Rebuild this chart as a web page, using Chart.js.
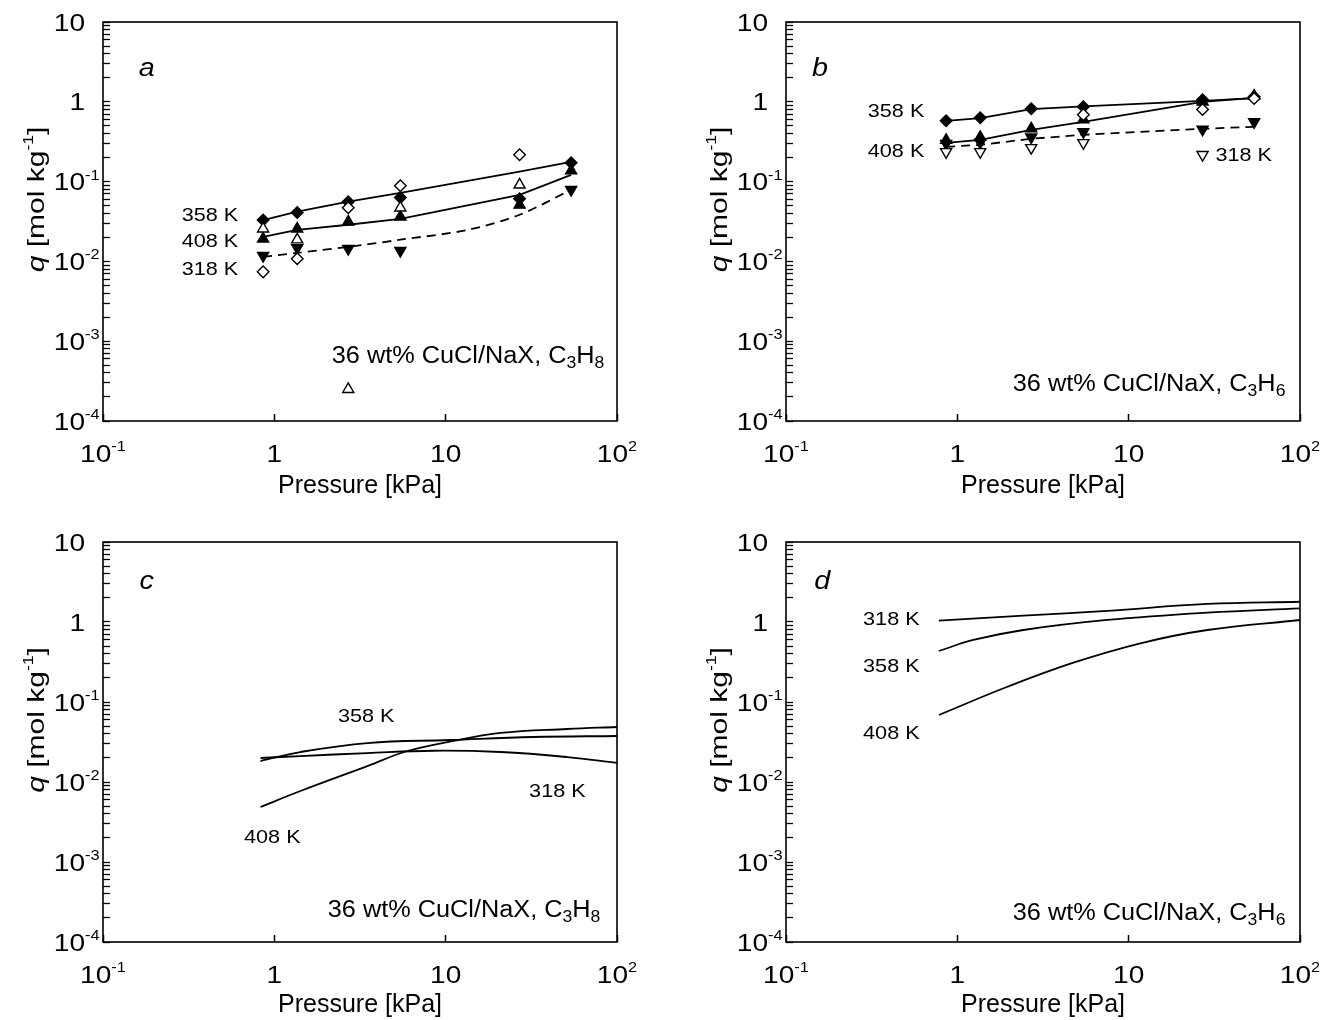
<!DOCTYPE html>
<html><head><meta charset="utf-8">
<script src="https://cdn.jsdelivr.net/npm/chart.js@4.4.1/dist/chart.umd.min.js"></script>
<style>
html,body{margin:0;padding:0;background:#fff;}
#wrap{position:relative;width:1326px;height:1020px;background:#fff;}
.panel{position:absolute;width:663px;height:510px;}
</style></head><body>
<div id="wrap">
<div class="panel" style="left:0;top:0"><canvas id="ca" width="663" height="510"></canvas></div>
<div class="panel" style="left:663px;top:0"><canvas id="cb" width="663" height="510"></canvas></div>
<div class="panel" style="left:0;top:510px"><canvas id="cc" width="663" height="510"></canvas></div>
<div class="panel" style="left:663px;top:510px"><canvas id="cd" width="663" height="510"></canvas></div>
</div>
<script>
// ---------------- DATA ----------------
const pressureKPa = [0.86, 1.36, 2.7, 5.44, 27, 54];
const pressureDense = [0.86, 1.36, 2.7, 5.44, 13.6, 27, 54];

// Panel a: 36 wt% CuCl/NaX, C3H8 (measured)
const a358Filled = [0.033, 0.041, 0.056, 0.063, 0.061, 0.172];
const a408Filled = [0.0192, 0.0256, 0.0313, 0.0362, 0.051, 0.137];
const a318Filled = [0.0118, 0.0148, 0.0144, 0.0136, null, 0.079];
const aOpenDiamond = [0.0074, 0.0108, 0.047, 0.0886, 0.217, null];
const aOpenTriangle = [0.0256, 0.0187, 0.00025, 0.047, 0.091, null];
const a358Line = [0.033, 0.042, 0.056, 0.072, 0.133, 0.177];
const a408Line = [0.0203, 0.0249, 0.0288, 0.0342, 0.0684, 0.1217];
const a318Line = [0.0114, 0.0128, 0.0152, 0.0187, 0.0249, 0.0384, 0.0789];

// Panel b: 36 wt% CuCl/NaX, C3H6 (measured)
const b358Filled = [0.578, 0.63, 0.817, 0.866, 1.06, 1.155];
const b408Filled = [0.33, 0.36, 0.46, 0.60, 1.0, 1.18];
const b318Filled = [0.30, 0.31, 0.36, 0.42, 0.45, 0.56];
const b318Open = [0.236, 0.236, 0.265, 0.306, 0.217, null];
const bOpenDiamond = [null, null, null, 0.69, 0.80, 1.1];
const b358Line = [0.578, 0.625, 0.81, 0.874, 1.03, 1.11];
const b408Line = [0.306, 0.334, 0.446, 0.561, 1.0, 1.12];
const b318Line = [0.273, 0.289, 0.344, 0.386, 0.459, 0.486];

// Panel c: C3H8 model curves
const c358P = [0.83, 1.42, 3.49, 10.6, 32.5, 100];
const c358Q = [0.0183, 0.0237, 0.0307, 0.0335, 0.0365, 0.0376];
const c318P = [0.83, 1.42, 3.49, 8.48, 20.9, 51.3, 100];
const c318Q = [0.01995, 0.0211, 0.0230, 0.0246, 0.0237, 0.0205, 0.0173];
const c408P = [0.83, 1.42, 3.49, 5.98, 11.1, 20.9, 51.3, 100];
const c408Q = [0.00487, 0.00772, 0.0158, 0.0244, 0.0326, 0.041, 0.046, 0.0487];

// Panel d: C3H6 model curves
const d318P = [0.78, 2.43, 7.5, 28.8, 100];
const d318Q = [1.04, 1.2, 1.38, 1.68, 1.79];
const d358P = [0.78, 1.24, 2.43, 7.5, 28.8, 100];
const d358Q = [0.434, 0.596, 0.794, 1.06, 1.31, 1.48];
const d408P = [0.78, 1.96, 4.76, 11.7, 28.8, 100];
const d408Q = [0.0688, 0.155, 0.31, 0.542, 0.794, 1.06];

// Axis tick values
const xTickValues = [0.1, 1, 10, 100];
const yDecades = [1e-4, 1e-3, 1e-2, 1e-1, 1, 10];

// ---------------- HELPERS ----------------
const FONT = '"Liberation Sans", Arial, Helvetica, sans-serif';
function powParts(v){
  const e = Math.round(Math.log10(v));
  if (e === 0) return [{t: '1'}];
  if (e === 1) return [{t: '10'}];
  return [{t: '10'}, {t: String(e), sup: true}];
}
function powText(v){
  const l = Math.log10(v), e = Math.round(l);
  if (Math.abs(l - e) > 1e-6) return '';
  return powParts(v).map(p => p.t).join('^');
}
function yTickValues(){
  const out = [];
  for (let i = 0; i < yDecades.length - 1; i++) {
    for (let m = 1; m <= 9; m++) out.push(Number((m * yDecades[i]).toPrecision(6)));
  }
  out.push(yDecades[yDecades.length - 1]);
  return out;
}
function pts(xs, ys){
  return xs.map((x, i) => ({x: x, y: ys[i]})).filter(p => p.y !== null && p.y !== undefined);
}
function markers(xs, ys, style, filled, rot){
  return {data: pts(xs, ys), showLine: false, order: 1,
    pointStyle: style, pointRadius: style === 'rectRot' ? 5.8 : 6.4, pointRotation: rot || 0,
    pointBackgroundColor: filled ? '#000' : '#fff', pointBorderColor: '#000', pointBorderWidth: 1.4,
    pointHoverRadius: 0};
}
function curve(xs, ys, dashed, tension){
  return {data: pts(xs, ys), showLine: true, order: 2, pointRadius: 0, pointHoverRadius: 0,
    borderColor: '#000', borderWidth: 1.8, borderDash: dashed ? [9, 6] : [],
    tension: tension || 0, fill: false};
}

// rich text: parts with i (italic), sub, sup; sx = horizontal stretch; ss = script scale
function drawRich(ctx, x, y, parts, align, size, sx, ss){
  sx = sx || 1;
  ss = ss || 0.68;
  const fontFor = p => (p.i ? 'italic ' : '') + ((p.sub || p.sup) ? Math.round(size * ss) : size) + 'px ' + FONT;
  let total = 0;
  const widths = parts.map(p => { ctx.font = fontFor(p); const w = ctx.measureText(p.t).width; total += w; return w; });
  let start;
  if (align === 'right') start = -total;
  else if (align === 'center') start = -total / 2;
  else if (align === 'baseRight') start = -widths[0];
  else start = 0;
  ctx.save();
  ctx.translate(x, y);
  ctx.scale(sx, 1);
  ctx.textBaseline = 'alphabetic';
  ctx.textAlign = 'left';
  ctx.fillStyle = '#000';
  const base = size * 0.36;
  let cx = start;
  parts.forEach((p, i) => {
    ctx.font = fontFor(p);
    let by = base;
    if (p.sub) by = base + size * 0.22;
    if (p.sup) by = base - size * 0.44;
    ctx.fillText(p.t, cx, by);
    cx += widths[i];
  });
  ctx.restore();
}

const TICK_SIZE = 24, TICK_SX = 1.17, TICK_SS = 0.6;
const decor = {
  id: 'decor',
  afterDraw(chart, args, opts){
    const ctx = chart.ctx, a = chart.chartArea;
    const xs = chart.scales.x, ys = chart.scales.y;
    ctx.save();
    ctx.strokeStyle = '#000';
    ctx.lineWidth = 1.6;
    ctx.strokeRect(a.left, a.top, a.right - a.left, a.bottom - a.top);
    // tick labels
    yDecades.forEach(v => {
      drawRich(ctx, a.left - 18, ys.getPixelForValue(v), powParts(v), 'baseRight', TICK_SIZE, TICK_SX, TICK_SS);
    });
    xTickValues.forEach(v => {
      drawRich(ctx, xs.getPixelForValue(v), a.bottom + 32, powParts(v), 'center', TICK_SIZE, TICK_SX, TICK_SS);
    });
    // annotations
    (opts.notes || []).forEach(n => {
      drawRich(ctx, xs.getPixelForValue(n.x), ys.getPixelForValue(n.y), n.parts, n.align, n.size, n.sx);
    });
    // y-axis title
    ctx.translate(a.left - 68, (a.top + a.bottom) / 2 - 22);
    ctx.rotate(-Math.PI / 2);
    drawRich(ctx, 0, 0, [{t: 'q', i: true}, {t: ' [mol kg'}, {t: '-1', sup: true}, {t: ']'}], 'center', 24, 1.25, 0.6);
    ctx.restore();
  }
};

function makeChart(id, geo, datasets, notes){
  return new Chart(document.getElementById(id), {
    type: 'scatter',
    data: {datasets: datasets},
    plugins: [decor],
    options: {
      responsive: false, animation: false, events: [],
      devicePixelRatio: 1,
      layout: {padding: {left: 0, top: geo.padTop, right: geo.padRight, bottom: geo.padBottom}},
      plugins: {legend: {display: false}, tooltip: {enabled: false}, decor: {notes: notes}},
      scales: {
        x: {
          type: 'logarithmic', position: 'bottom', min: 0.1, max: 100,
          afterBuildTicks: s => { s.ticks = xTickValues.map(v => ({value: v})); },
          afterFit: s => { s.height = geo.xH; },
          ticks: {display: false, callback: v => powText(v), autoSkip: false, maxRotation: 0},
          grid: {drawOnChartArea: false, drawTicks: true, tickLength: -7, tickColor: '#000', tickWidth: 1.5},
          border: {display: false},
          title: {display: true, text: 'Pressure [kPa]', color: '#000', font: {family: FONT, size: 25},
                  padding: {top: 0, bottom: 0}}
        },
        y: {
          type: 'logarithmic', position: 'left', min: 1e-4, max: 10,
          afterBuildTicks: s => { s.ticks = yTickValues().map(v => ({value: v})); },
          afterFit: s => { s.width = geo.yW; },
          ticks: {display: false, callback: v => powText(v), autoSkip: false},
          grid: {drawOnChartArea: false, drawTicks: true, tickLength: -7, tickColor: '#000', tickWidth: 1.3},
          border: {display: false},
          title: {display: false}
        }
      }
    }
  });
}

const K = t => [{t: t}];
const sampleC3H8 = [{t: '36 wt% CuCl/NaX, C'}, {t: '3', sub: true}, {t: 'H'}, {t: '8', sub: true}];
const sampleC3H6 = [{t: '36 wt% CuCl/NaX, C'}, {t: '3', sub: true}, {t: 'H'}, {t: '6', sub: true}];
const KS = 19, KSX = 1.14, SS = 23, SSX = 1.1;

// Panel a
makeChart('ca', {padTop: 22, padRight: 46, padBottom: 9, xH: 80, yW: 103}, [
  curve(pressureKPa, a358Line, false, 0),
  curve(pressureKPa, a408Line, false, 0),
  curve(pressureDense, a318Line, true, 0.3),
  markers(pressureKPa, aOpenDiamond, 'rectRot', false),
  markers(pressureKPa, aOpenTriangle, 'triangle', false),
  markers(pressureKPa, a318Filled, 'triangle', true, 180),
  markers(pressureKPa, a408Filled, 'triangle', true),
  markers(pressureKPa, a358Filled, 'rectRot', true)
], [
  {x: 0.18, y: 2.75, parts: [{t: 'a', i: true}], align: 'center', size: 25, sx: 1.15},
  {x: 0.616, y: 0.0395, parts: K('358 K'), align: 'right', size: KS, sx: KSX},
  {x: 0.616, y: 0.0187, parts: K('408 K'), align: 'right', size: KS, sx: KSX},
  {x: 0.616, y: 0.0083, parts: K('318 K'), align: 'right', size: KS, sx: KSX},
  {x: 84.4, y: 6.76e-4, parts: sampleC3H8, align: 'right', size: SS, sx: SSX}
]);

// Panel b
makeChart('cb', {padTop: 22, padRight: 26, padBottom: 9, xH: 80, yW: 123}, [
  curve(pressureKPa, b358Line, false, 0),
  curve(pressureKPa, b408Line, false, 0),
  curve(pressureKPa, b318Line, true, 0),
  markers(pressureKPa, b318Open, 'triangle', false, 180),
  markers(pressureKPa, bOpenDiamond, 'rectRot', false),
  markers(pressureKPa, b318Filled, 'triangle', true, 180),
  markers(pressureKPa, b408Filled, 'triangle', true),
  markers(pressureKPa, b358Filled, 'rectRot', true)
], [
  {x: 0.158, y: 2.75, parts: [{t: 'b', i: true}], align: 'center', size: 25, sx: 1.15},
  {x: 0.642, y: 0.794, parts: K('358 K'), align: 'right', size: KS, sx: KSX},
  {x: 0.642, y: 0.25, parts: K('408 K'), align: 'right', size: KS, sx: KSX},
  {x: 32.1, y: 0.223, parts: K('318 K'), align: 'left', size: KS, sx: KSX},
  {x: 82.2, y: 3.0e-4, parts: sampleC3H6, align: 'right', size: SS, sx: SSX}
]);

// Panel c
makeChart('cc', {padTop: 32, padRight: 46, padBottom: 0, xH: 78, yW: 103}, [
  curve(c358P, c358Q, false, 0.4),
  curve(c318P, c318Q, false, 0.4),
  curve(c408P, c408Q, false, 0.4)
], [
  {x: 0.18, y: 3.35, parts: [{t: 'c', i: true}], align: 'center', size: 25, sx: 1.15},
  {x: 3.44, y: 0.0688, parts: K('358 K'), align: 'center', size: KS, sx: KSX},
  {x: 44.9, y: 0.00794, parts: K('318 K'), align: 'center', size: KS, sx: KSX},
  {x: 0.973, y: 0.00211, parts: K('408 K'), align: 'center', size: KS, sx: KSX},
  {x: 80, y: 2.58e-4, parts: sampleC3H8, align: 'right', size: SS, sx: SSX}
]);

// Panel d
makeChart('cd', {padTop: 32, padRight: 26, padBottom: 0, xH: 78, yW: 123}, [
  curve(d318P, d318Q, false, 0.4),
  curve(d358P, d358Q, false, 0.4),
  curve(d408P, d408Q, false, 0.4)
], [
  {x: 0.163, y: 3.35, parts: [{t: 'd', i: true}], align: 'center', size: 25, sx: 1.15},
  {x: 0.412, y: 1.12, parts: K('318 K'), align: 'center', size: KS, sx: KSX},
  {x: 0.412, y: 0.29, parts: K('358 K'), align: 'center', size: KS, sx: KSX},
  {x: 0.412, y: 0.0422, parts: K('408 K'), align: 'center', size: KS, sx: KSX},
  {x: 82.2, y: 2.37e-4, parts: sampleC3H6, align: 'right', size: SS, sx: SSX}
]);
</script>
</body></html>
